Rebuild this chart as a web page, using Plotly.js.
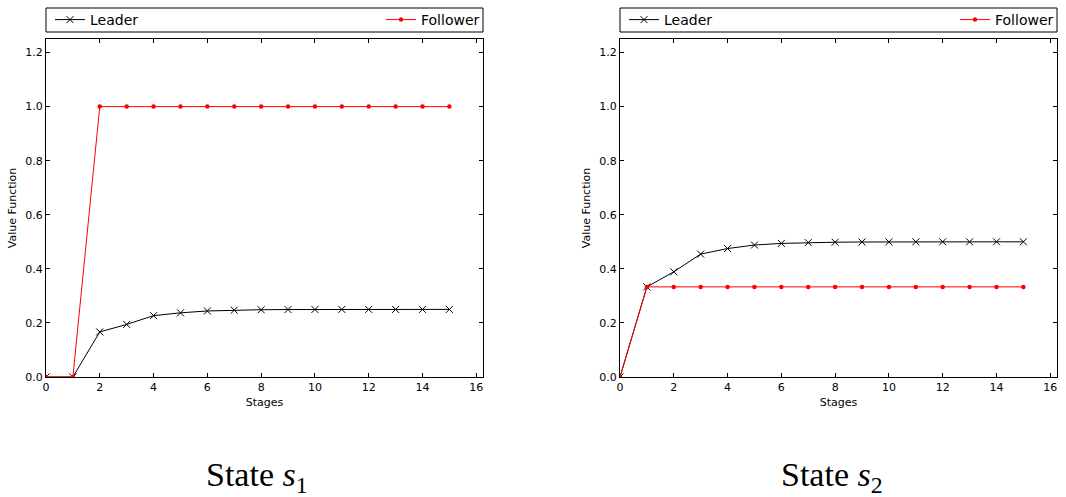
<!DOCTYPE html>
<html>
<head>
<meta charset="utf-8">
<script src="https://cdn.plot.ly/plotly-3.0.1.min.js"></script>
<style>html,body{margin:0;padding:0;background:#fff;}#chart{width:1066px;height:497px;}</style>
</head>
<body>
<div id="chart"></div>
<script>
// Data
const stages = [0,1,2,3,4,5,6,7,8,9,10,11,12,13,14,15];
const leaderS1 = [0,0,0.1667,0.1944,0.2269,0.2373,0.2442,0.2472,0.2488,0.2494,0.2497,0.2499,0.25,0.25,0.25,0.25];
const followerS1 = [0,0,1,1,1,1,1,1,1,1,1,1,1,1,1,1];
const leaderS2 = [0,0.3333,0.3889,0.4545,0.4750,0.4880,0.4940,0.4970,0.4985,0.4993,0.4997,0.4999,0.5,0.5,0.5,0.5];
const followerS2 = [0,0.3333,0.3333,0.3333,0.3333,0.3333,0.3333,0.3333,0.3333,0.3333,0.3333,0.3333,0.3333,0.3333,0.3333,0.3333];
const seriesNames = ["Leader","Follower"];
const panelTitles = ["State <i>s</i><sub>1</sub>","State <i>s</i><sub>2</sub>"];
const xTickVals = [0,2,4,6,8,10,12,14,16];
const yTickVals = [0,0.2,0.4,0.6,0.8,1.0,1.2];

const W = 1066, H = 497;
const px = v => v / W;
const py = v => 1 - v / H;

const leaderStyle = {mode:'lines+markers', line:{color:'black', width:1},
  marker:{symbol:'x-thin-open', size:7, color:'black', line:{color:'black', width:1}}};
const followerStyle = {mode:'lines+markers', line:{color:'red', width:1},
  marker:{symbol:'circle', size:4.5, color:'red'}};

const traces = [
  Object.assign({x:stages, y:leaderS1, name:seriesNames[0], xaxis:'x', yaxis:'y', legend:'legend'}, leaderStyle),
  Object.assign({x:stages, y:followerS1, name:seriesNames[1], xaxis:'x', yaxis:'y', legend:'legend2'}, followerStyle),
  Object.assign({x:stages, y:leaderS2, name:seriesNames[0], xaxis:'x2', yaxis:'y2', legend:'legend3'}, leaderStyle),
  Object.assign({x:stages, y:followerS2, name:seriesNames[1], xaxis:'x2', yaxis:'y2', legend:'legend4'}, followerStyle)
];

const tickFont = {family:'DejaVu Sans', size:11, color:'black'};
function xax(domain, anchor){
  return {domain:domain, anchor:anchor, range:[0,16.25], tickvals:xTickVals, ticktext:xTickVals.map(String),
    ticks:'inside', ticklen:4, tickcolor:'black', showline:true, linecolor:'black', linewidth:1, mirror:'ticks',
    showgrid:false, zeroline:false, tickfont:tickFont,
    title:{text:'Stages', font:{family:'DejaVu Sans', size:11, color:'black'}, standoff:5}};
}
function yax(anchor){
  return {domain:[1-377/H, 1-39/H], anchor:anchor, range:[0,1.25], tickvals:yTickVals, ticktext:yTickVals.map(v=>v.toFixed(1)),
    ticks:'inside', ticklen:4, tickcolor:'black', showline:true, linecolor:'black', linewidth:1, mirror:'ticks',
    showgrid:false, zeroline:false, tickfont:tickFont,
    title:{text:'Value Function', font:{family:'DejaVu Sans', size:11, color:'black'}, standoff:6}};
}
const legFont = {family:'DejaVu Sans', size:14, color:'black'};
function leg(x, anchor){
  return {x:x, xanchor:anchor, xref:'paper', y:py(20), yanchor:'middle', yref:'paper', orientation:'h',
    bgcolor:'rgba(0,0,0,0)', borderwidth:0, font:legFont, itemclick:false};
}

const layout = {
  width:W, height:H, margin:{l:0,r:0,t:0,b:0}, paper_bgcolor:'white', plot_bgcolor:'white',
  showlegend:true,
  xaxis: xax([px(46), px(483)], 'y'),
  yaxis: yax('x'),
  xaxis2: xax([px(620), px(1057)], 'y2'),
  yaxis2: yax('x2'),
  legend: leg(px(50), 'left'),
  legend2: leg(px(485), 'right'),
  legend3: leg(px(624), 'left'),
  legend4: leg(px(1059), 'right'),
  shapes: [
    {type:'rect', xref:'paper', yref:'paper', x0:px(46), x1:px(483), y0:py(32), y1:py(8), line:{color:'black', width:1}},
    {type:'rect', xref:'paper', yref:'paper', x0:px(620), x1:px(1057), y0:py(32), y1:py(8), line:{color:'black', width:1}}
  ],
  annotations: [
    {text:panelTitles[0], xref:'paper', yref:'paper', x:px(257), y:py(477), xanchor:'center', yanchor:'middle',
     showarrow:false, font:{family:'Liberation Serif', size:34, color:'black'}},
    {text:panelTitles[1], xref:'paper', yref:'paper', x:px(832), y:py(477), xanchor:'center', yanchor:'middle',
     showarrow:false, font:{family:'Liberation Serif', size:34, color:'black'}}
  ]
};

Plotly.newPlot('chart', traces, layout, {staticPlot:true, displayModeBar:false});
</script>
</body>
</html>
